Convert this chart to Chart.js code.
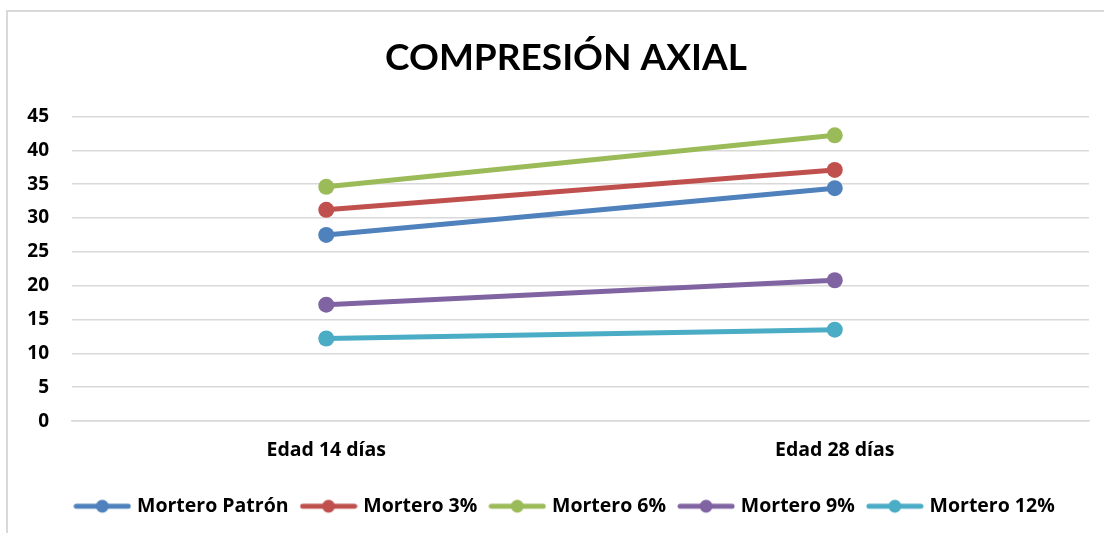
<!DOCTYPE html>
<html>
<head>
<meta charset="utf-8">
<script src="https://cdn.jsdelivr.net/npm/chart.js@4.4.1/dist/chart.umd.min.js"></script>
<style>
  html, body { margin: 0; padding: 0; background: #fff; overflow: hidden; }
  #frame { position: absolute; left: 6px; top: 10px; width: 1200px; height: 700px;
           border-left: 2px solid #D9D9D9; border-top: 2px solid #D9D9D9; }
  #c { position: absolute; left: 0; top: 0; }
</style>
</head>
<body>
<div id="frame"></div>
<canvas id="c" width="1132" height="533"></canvas>
<script>
const categories = ['Edad 14 días', 'Edad 28 días'];
const seriesNames = ['Mortero Patrón', 'Mortero 3%', 'Mortero 6%', 'Mortero 9%', 'Mortero 12%'];
const morteroPatron = [27.5, 34.4];
const mortero3 = [31.2, 37.1];
const mortero6 = [34.6, 42.2];
const mortero9 = [17.2, 20.8];
const mortero12 = [12.2, 13.5];
const yTicks = [0, 5, 10, 15, 20, 25, 30, 35, 40, 45];
const colors = ['#4F81BD', '#C0504D', '#9BBB59', '#8064A2', '#4BACC6'];

const TITLE_FONT = 'Lato, "Open Sans", "Liberation Sans", sans-serif';
const FONT = '"Open Sans", Lato, "Liberation Sans", sans-serif';

function legendIcon(color) {
  const cv = document.createElement('canvas');
  cv.width = 58; cv.height = 16;
  const g = cv.getContext('2d');
  g.strokeStyle = color; g.lineWidth = 5; g.lineCap = 'round';
  g.beginPath(); g.moveTo(3, 8); g.lineTo(55, 8); g.stroke();
  g.fillStyle = color;
  g.beginPath(); g.arc(29, 8, 6.5, 0, Math.PI * 2); g.fill();
  return cv;
}

const allData = [morteroPatron, mortero3, mortero6, mortero9, mortero12];
const datasets = allData.map((d, i) => ({
  label: seriesNames[i],
  data: d,
  yAxisID: 'y',
  borderColor: colors[i],
  backgroundColor: colors[i],
  pointBackgroundColor: colors[i],
  pointBorderColor: colors[i],
  borderWidth: 5,
  pointRadius: 8,
  pointHoverRadius: 8,
  pointBorderWidth: 0,
  tension: 0,
  fill: false,
  icon: legendIcon(colors[i])
}));

new Chart(document.getElementById('c'), {
  type: 'line',
  data: { labels: categories, datasets },
  options: {
    responsive: false,
    devicePixelRatio: 1,
    animation: false,
    layout: { padding: { left: 0, right: 0, top: 0, bottom: 7 } },
    plugins: {
      title: {
        display: true,
        text: 'COMPRESIÓN AXIAL',
        color: '#000',
        font: { family: TITLE_FONT, size: 37, weight: 'bold' },
        padding: { top: 36, bottom: 36 }
      },
      legend: {
        position: 'bottom',
        labels: {
          color: '#000',
          font: { family: FONT, size: 19.5, weight: 'bold' },
          usePointStyle: true,
          pointStyleWidth: 50,
          padding: 15,
          generateLabels(chart) {
            return chart.data.datasets.map((ds, i) => ({
              text: ds.label,
              fillStyle: ds.borderColor,
              strokeStyle: ds.borderColor,
              pointStyle: ds.icon,
              lineWidth: 0,
              hidden: false,
              datasetIndex: i
            }));
          }
        }
      },
      tooltip: { enabled: false }
    },
    scales: {
      x: {
        offset: true,
        grid: { display: false, drawTicks: false },
        border: { display: true, color: '#D9D9D9', width: 1.5 },
        ticks: { color: '#000', font: { family: FONT, size: 19.5, weight: 'bold' }, padding: 18, 
                 },
        afterFit(scale) { scale.height = scale.height + 1; }
      },
      y: {
        position: 'left',
        min: 0, max: 45,
        afterFit(scale) { scale.width = 72; },
        afterBuildTicks(scale) { scale.ticks = yTicks.map(v => ({ value: v })); },
        grid: { color: '#D9D9D9', lineWidth: 1.5, drawTicks: false },
        border: { display: false },
        ticks: { color: '#000', font: { family: FONT, size: 19, weight: 'bold' }, padding: 23 }
      },
      yRight: {
        position: 'right',
        min: 0, max: 45,
        afterFit(scale) { scale.width = 43; },
        grid: { display: false, drawOnChartArea: false, drawTicks: false },
        border: { display: false },
        ticks: { display: false }
      }
    }
  }
});
</script>
</body>
</html>
